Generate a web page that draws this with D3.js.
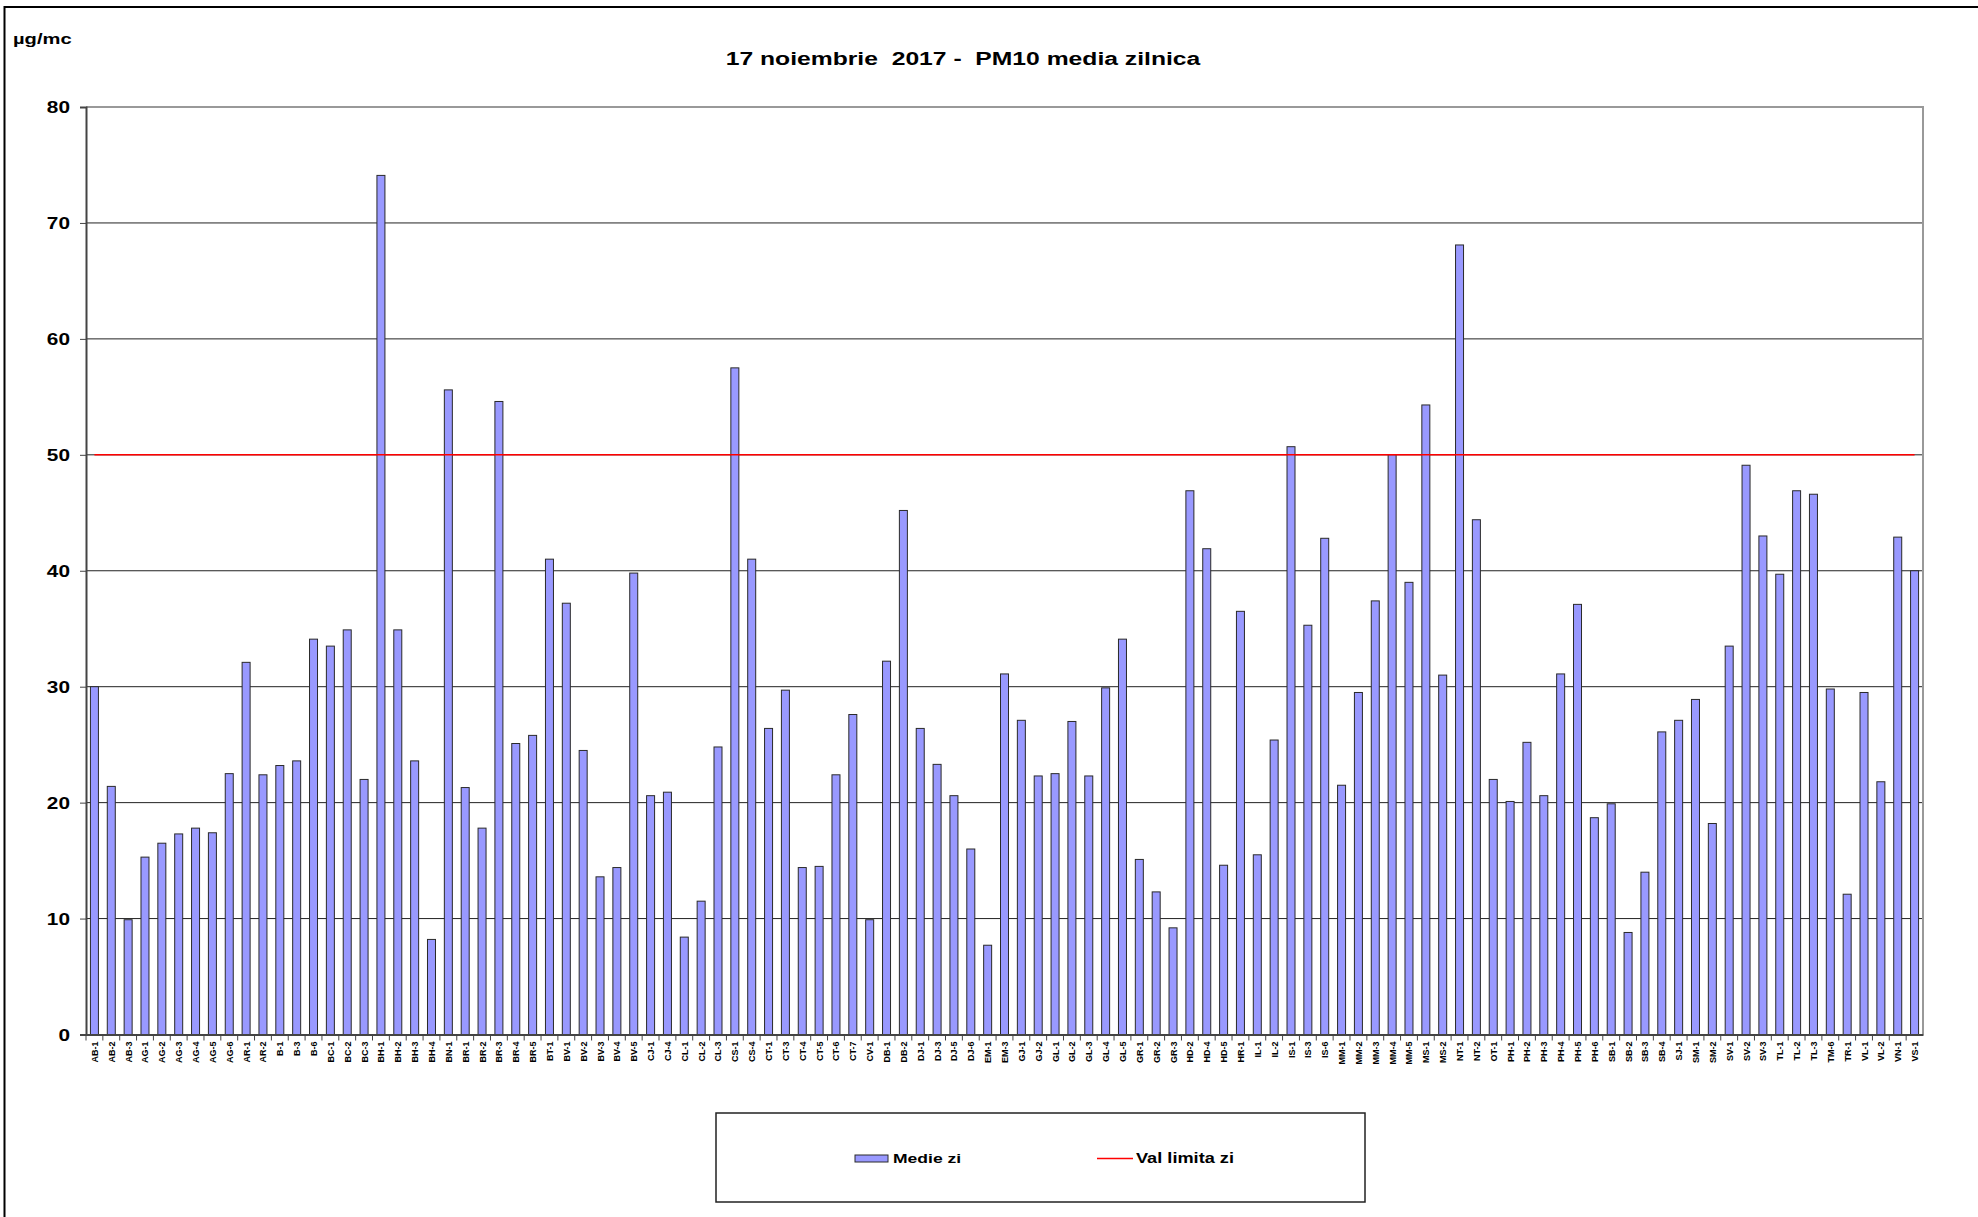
<!DOCTYPE html>
<html>
<head>
<meta charset="utf-8">
<script src="https://cdn.jsdelivr.net/npm/d3@7"></script>
<style>
  body { margin: 0; background: #fff; }
  text { font-family: "Liberation Sans", Arial, sans-serif; }
</style>
</head>
<body>
<div id="chart"></div>
<script>
const stations = ["AB-1","AB-2","AB-3","AG-1","AG-2","AG-3","AG-4","AG-5","AG-6","AR-1","AR-2","B-1","B-3","B-6","BC-1","BC-2","BC-3","BH-1","BH-2","BH-3","BH-4","BN-1","BR-1","BR-2","BR-3","BR-4","BR-5","BT-1","BV-1","BV-2","BV-3","BV-4","BV-5","CJ-1","CJ-4","CL-1","CL-2","CL-3","CS-1","CS-4","CT-1","CT-3","CT-4","CT-5","CT-6","CT-7","CV-1","DB-1","DB-2","DJ-1","DJ-3","DJ-5","DJ-6","EM-1","EM-3","GJ-1","GJ-2","GL-1","GL-2","GL-3","GL-4","GL-5","GR-1","GR-2","GR-3","HD-2","HD-4","HD-5","HR-1","IL-1","IL-2","IS-1","IS-3","IS-6","MM-1","MM-2","MM-3","MM-4","MM-5","MS-1","MS-2","NT-1","NT-2","OT-1","PH-1","PH-2","PH-3","PH-4","PH-5","PH-6","SB-1","SB-2","SB-3","SB-4","SJ-1","SM-1","SM-2","SV-1","SV-2","SV-3","TL-1","TL-2","TL-3","TM-6","TR-1","VL-1","VL-2","VN-1","VS-1"];

const medieZi = [30.0,21.4,9.9,15.3,16.5,17.3,17.8,17.4,22.5,32.1,22.4,23.2,23.6,34.1,33.5,34.9,22.0,74.1,34.9,23.6,8.2,55.6,21.3,17.8,54.6,25.1,25.8,41.0,37.2,24.5,13.6,14.4,39.8,20.6,20.9,8.4,11.5,24.8,57.5,41.0,26.4,29.7,14.4,14.5,22.4,27.6,9.9,32.2,45.2,26.4,23.3,20.6,16.0,7.7,31.1,27.1,22.3,22.5,27.0,22.3,29.9,34.1,15.1,12.3,9.2,46.9,41.9,14.6,36.5,15.5,25.4,50.7,35.3,42.8,21.5,29.5,37.4,50.0,39.0,54.3,31.0,68.1,44.4,22.0,20.1,25.2,20.6,31.1,37.1,18.7,19.9,8.8,14.0,26.1,27.1,28.9,18.2,33.5,49.1,43.0,39.7,46.9,46.6,29.8,12.1,29.5,21.8,42.9,40.0];

const valLimita = 50;
const yTicks = [0,10,20,30,40,50,60,70,80];

const width = 1978, height = 1217;
const plotLeft = 86, plotRight = 1923, plotTop = 107, plotBottom = 1034.5;
const stretch = 1.3;

const svg = d3.select("#chart").append("svg")
  .attr("width", width)
  .attr("height", height);

svg.append("rect")
  .attr("width", width).attr("height", height)
  .attr("fill", "#fff");

// outer frame (only left and top visible)
svg.append("rect")
  .attr("x", 4.5).attr("y", 7)
  .attr("width", 2100).attr("height", 1400)
  .attr("fill", "none")
  .attr("stroke", "#000")
  .attr("stroke-width", 2);

const x = d3.scaleBand()
  .domain(stations)
  .range([plotLeft, plotRight]);

const y = d3.scaleLinear()
  .domain([0, 80])
  .range([plotBottom, plotTop]);

// wide text helper, the original fonts look stretched
function wideText(g, tx, ty, str, size, anchor) {
  return g.append("text")
    .attr("transform", `translate(${tx},${ty}) scale(${stretch},1)`)
    .attr("text-anchor", anchor)
    .attr("font-size", size)
    .attr("font-weight", "bold")
    .attr("fill", "#000")
    .style("white-space", "pre")
    .text(str);
}

// gridlines
svg.append("g")
  .selectAll("line")
  .data(yTicks.filter(d => d > 0 && d < 80))
  .enter()
  .append("line")
  .attr("x1", plotLeft).attr("x2", plotRight)
  .attr("y1", d => y(d)).attr("y2", d => y(d))
  .attr("stroke", "#222")
  .attr("stroke-width", 1);

// plot border top / right
svg.append("path")
  .attr("d", `M${plotLeft},${plotTop}H${plotRight}V${plotBottom}`)
  .attr("fill", "none")
  .attr("stroke", "#999")
  .attr("stroke-width", 2);

// bars
svg.append("g")
  .selectAll("rect")
  .data(medieZi)
  .enter()
  .append("rect")
  .attr("x", (d, i) => x(stations[i]) + x.bandwidth() / 2 - 4)
  .attr("y", d => y(d))
  .attr("width", 8)
  .attr("height", d => y(0) - y(d))
  .attr("fill", "#9999ff")
  .attr("stroke", "#2a2a2a")
  .attr("stroke-width", 1);

// limit line from first to last category centre
const limitLine = d3.line()
  .x(d => x(d) + x.bandwidth() / 2)
  .y(() => y(valLimita));

svg.append("path")
  .datum([stations[0], stations[stations.length - 1]])
  .attr("d", limitLine)
  .attr("fill", "none")
  .attr("stroke", "#ff0000")
  .attr("stroke-width", 1.5);

// y axis
const yAxis = svg.append("g")
  .attr("transform", `translate(${plotLeft},0)`)
  .call(d3.axisLeft(y).tickValues(yTicks).tickSize(6).tickFormat(""));
yAxis.select(".domain").attr("stroke", "#444").attr("stroke-width", 2);
yAxis.selectAll(".tick line").attr("stroke", "#444");

yTicks.forEach(t => {
  wideText(svg, 70, y(t) + 6, String(t), 16, "end");
});

// x axis with ticks at category boundaries
const xAxis = svg.append("g")
  .attr("transform", `translate(0,${plotBottom})`)
  .call(d3.axisBottom(x).tickSize(0).tickFormat(""));
xAxis.select(".domain").attr("stroke", "#444").attr("stroke-width", 2);

svg.append("g")
  .selectAll("line")
  .data(stations)
  .enter()
  .append("line")
  .attr("x1", d => x(d)).attr("x2", d => x(d))
  .attr("y1", plotBottom).attr("y2", plotBottom + 6)
  .attr("stroke", "#444");

svg.append("g")
  .selectAll("text")
  .data(stations)
  .enter()
  .append("text")
  .attr("transform", d => `translate(${x(d) + x.bandwidth() / 2 + 3.5},${plotBottom + 7}) rotate(-90)`)
  .attr("text-anchor", "end")
  .attr("font-size", 9)
  .attr("font-weight", "bold")
  .attr("fill", "#000")
  .text(d => d);

// titles
wideText(svg, 13, 44, "µg/mc", 15.5, "start");
wideText(svg, 963, 65, "17 noiembrie  2017 -  PM10 media zilnica", 19, "middle");

// legend
svg.append("rect")
  .attr("x", 716).attr("y", 1113)
  .attr("width", 649).attr("height", 89)
  .attr("fill", "none")
  .attr("stroke", "#222")
  .attr("stroke-width", 1.5);

svg.append("rect")
  .attr("x", 855).attr("y", 1155)
  .attr("width", 33).attr("height", 7)
  .attr("fill", "#9999ff")
  .attr("stroke", "#2a2a2a");
wideText(svg, 893, 1163, "Medie zi", 13.5, "start");

svg.append("line")
  .attr("x1", 1097).attr("x2", 1133)
  .attr("y1", 1158.5).attr("y2", 1158.5)
  .attr("stroke", "#ff0000")
  .attr("stroke-width", 1.5);
wideText(svg, 1136, 1163, "Val limita zi", 14, "start");
</script>
</body>
</html>
